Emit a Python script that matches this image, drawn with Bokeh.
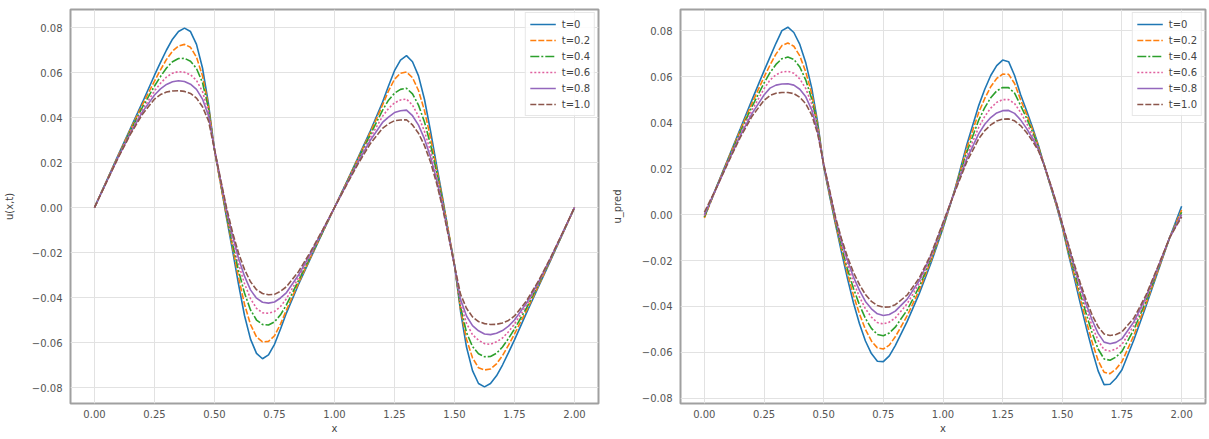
from bokeh.plotting import figure
from bokeh.layouts import row
from bokeh.models import FixedTicker, Range1d
from bokeh.embed import file_html
from bokeh.resources import INLINE

# ---------------- data ----------------
labels = ["t=0", "t=0.2", "t=0.4", "t=0.6", "t=0.8", "t=1.0"]

x_left = [0.00, 0.05, 0.10, 0.15, 0.20, 0.25,
          0.275, 0.30, 0.325, 0.35, 0.375, 0.40, 0.425, 0.45, 0.475, 0.50, 0.525,
          0.55, 0.575, 0.60, 0.625, 0.65, 0.675, 0.70, 0.725, 0.75, 0.775, 0.80,
          0.85, 0.90, 0.95, 1.00, 1.05, 1.10, 1.15, 1.20,
          1.225, 1.25, 1.275, 1.30, 1.325, 1.35, 1.375, 1.40, 1.425, 1.45, 1.475,
          1.50, 1.525, 1.55, 1.575, 1.60, 1.625, 1.65, 1.675, 1.70, 1.725, 1.75,
          1.80, 1.85, 1.90, 1.95, 2.00]

u_t00 = [0.0000, 0.0118, 0.0236, 0.0352, 0.0468, 0.0588,
         0.0645, 0.0700, 0.0748, 0.0782, 0.0797, 0.0782, 0.0725, 0.0620, 0.0460, 0.0255, 0.0112,
         -0.0045, -0.0190, -0.0340, -0.0480, -0.0585, -0.0648, -0.0672, -0.0655, -0.0608, -0.0540, -0.0468,
         -0.0342, -0.0226, -0.0112, 0.0000,
         0.0112, 0.0226, 0.0342, 0.0468,
         0.0540, 0.0608, 0.0655, 0.0675, 0.0648, 0.0585, 0.0480, 0.0340, 0.0190, 0.0045, -0.0112,
         -0.0255, -0.0460, -0.0620, -0.0725, -0.0782, -0.0797, -0.0782, -0.0748, -0.0700, -0.0645, -0.0588,
         -0.0468, -0.0352, -0.0236, -0.0118, 0.0000]
u_t02 = [0.0000, 0.0117, 0.0233, 0.0347, 0.0458, 0.0562,
         0.0612, 0.0658, 0.0695, 0.0718, 0.0725, 0.0712, 0.0668, 0.0585, 0.0450, 0.0255, 0.0105,
         -0.0038, -0.0175, -0.0310, -0.0430, -0.0520, -0.0575, -0.0597, -0.0595, -0.0570, -0.0518, -0.0455,
         -0.0335, -0.0222, -0.0111, 0.0000,
         0.0111, 0.0222, 0.0335, 0.0455,
         0.0518, 0.0570, 0.0597, 0.0602, 0.0577, 0.0520, 0.0430, 0.0310, 0.0175, 0.0038, -0.0105,
         -0.0255, -0.0450, -0.0585, -0.0668, -0.0712, -0.0722, -0.0718, -0.0695, -0.0658, -0.0612, -0.0562,
         -0.0458, -0.0347, -0.0233, -0.0117, 0.0000]
u_t04 = [0.0000, 0.0116, 0.0230, 0.0341, 0.0446, 0.0540,
         0.0582, 0.0620, 0.0648, 0.0662, 0.0663, 0.0650, 0.0618, 0.0555, 0.0440, 0.0256, 0.0112,
         -0.0030, -0.0160, -0.0280, -0.0380, -0.0455, -0.0500, -0.0520, -0.0522, -0.0508, -0.0477, -0.0432,
         -0.0325, -0.0217, -0.0109, 0.0000,
         0.0109, 0.0217, 0.0325, 0.0432,
         0.0477, 0.0508, 0.0525, 0.0530, 0.0505, 0.0455, 0.0380, 0.0280, 0.0160, 0.0030, -0.0112,
         -0.0256, -0.0440, -0.0555, -0.0618, -0.0650, -0.0663, -0.0662, -0.0648, -0.0620, -0.0582, -0.0540,
         -0.0446, -0.0341, -0.0230, -0.0116, 0.0000]
u_t06 = [0.0000, 0.0115, 0.0228, 0.0336, 0.0435, 0.0518,
         0.0552, 0.0580, 0.0597, 0.0604, 0.0601, 0.0590, 0.0565, 0.0515, 0.0425, 0.0257, 0.0118,
         -0.0020, -0.0142, -0.0250, -0.0338, -0.0405, -0.0448, -0.0468, -0.0470, -0.0462, -0.0440, -0.0405,
         -0.0312, -0.0212, -0.0106, 0.0000,
         0.0106, 0.0212, 0.0312, 0.0405,
         0.0440, 0.0465, 0.0478, 0.0482, 0.0455, 0.0405, 0.0338, 0.0250, 0.0142, 0.0020, -0.0118,
         -0.0257, -0.0425, -0.0515, -0.0565, -0.0590, -0.0605, -0.0608, -0.0597, -0.0580, -0.0552, -0.0518,
         -0.0435, -0.0336, -0.0228, -0.0115, 0.0000]
u_t08 = [0.0000, 0.0114, 0.0226, 0.0331, 0.0425, 0.0500,
         0.0527, 0.0547, 0.0559, 0.0563, 0.0560, 0.0548, 0.0525, 0.0482, 0.0408, 0.0258, 0.0122,
         -0.0010, -0.0125, -0.0225, -0.0305, -0.0366, -0.0403, -0.0421, -0.0425, -0.0420, -0.0402, -0.0378,
         -0.0300, -0.0205, -0.0103, 0.0000,
         0.0103, 0.0205, 0.0300, 0.0378,
         0.0402, 0.0422, 0.0430, 0.0433, 0.0408, 0.0366, 0.0305, 0.0225, 0.0125, 0.0010, -0.0122,
         -0.0258, -0.0408, -0.0482, -0.0525, -0.0548, -0.0562, -0.0565, -0.0559, -0.0547, -0.0527, -0.0500,
         -0.0425, -0.0331, -0.0226, -0.0114, 0.0000]
u_t10 = [0.0000, 0.0113, 0.0224, 0.0326, 0.0415, 0.0482,
         0.0502, 0.0513, 0.0518, 0.0519, 0.0516, 0.0507, 0.0486, 0.0448, 0.0385, 0.0258, 0.0128,
         0.0000, -0.0110, -0.0202, -0.0275, -0.0330, -0.0365, -0.0382, -0.0388, -0.0386, -0.0372, -0.0352,
         -0.0285, -0.0197, -0.0100, 0.0000,
         0.0100, 0.0197, 0.0285, 0.0352,
         0.0372, 0.0386, 0.0389, 0.0390, 0.0367, 0.0330, 0.0275, 0.0202, 0.0110, 0.0000, -0.0128,
         -0.0258, -0.0385, -0.0448, -0.0486, -0.0507, -0.0516, -0.0520, -0.0519, -0.0513, -0.0502, -0.0482,
         -0.0415, -0.0326, -0.0224, -0.0113, 0.0000]

x_right = [0.00, 0.05, 0.10, 0.15, 0.20, 0.25,
           0.275, 0.30, 0.325, 0.35, 0.375, 0.40, 0.425, 0.45, 0.475, 0.50, 0.525,
           0.55, 0.575, 0.60, 0.625, 0.65, 0.675, 0.70, 0.725, 0.75, 0.775, 0.80,
           0.85, 0.90, 0.95, 1.00, 1.05, 1.10, 1.15,
           1.175, 1.20, 1.225, 1.25, 1.275, 1.30, 1.325, 1.35, 1.375, 1.40, 1.425, 1.45,
           1.475, 1.50, 1.525, 1.55, 1.575, 1.60, 1.625, 1.65, 1.675, 1.70, 1.725, 1.75,
           1.80, 1.85, 1.90, 1.95, 2.00]

p_t00 = [-0.0010, 0.0118, 0.0245, 0.0372, 0.0500, 0.0625,
         0.0685, 0.0745, 0.0800, 0.0815, 0.0792, 0.0740, 0.0660, 0.0550, 0.0400, 0.0210, 0.0080,
         -0.0045, -0.0165, -0.0280, -0.0385, -0.0475, -0.0550, -0.0605, -0.0638, -0.0640, -0.0615, -0.0570,
         -0.0465, -0.0345, -0.0210, -0.0060, 0.0110, 0.0305, 0.0475,
         0.0545, 0.0605, 0.0648, 0.0672, 0.0665, 0.0605, 0.0522, 0.0453, 0.0380, 0.0300, 0.0210, 0.0125,
         0.0040, -0.0055, -0.0170, -0.0275, -0.0385, -0.0490, -0.0590, -0.0680, -0.0740, -0.0738, -0.0712, -0.0675,
         -0.0545, -0.0400, -0.0250, -0.0100, 0.0036]
p_t02 = [-0.0015, 0.0116, 0.0242, 0.0365, 0.0485, 0.0598,
         0.0650, 0.0698, 0.0735, 0.0746, 0.0732, 0.0690, 0.0620, 0.0525, 0.0390, 0.0212, 0.0085,
         -0.0040, -0.0152, -0.0258, -0.0352, -0.0432, -0.0500, -0.0550, -0.0580, -0.0585, -0.0568, -0.0532,
         -0.0440, -0.0330, -0.0200, -0.0055, 0.0108, 0.0290, 0.0445,
         0.0505, 0.0556, 0.0592, 0.0611, 0.0610, 0.0570, 0.0500, 0.0437, 0.0370, 0.0297, 0.0212, 0.0127,
         0.0042, -0.0052, -0.0162, -0.0262, -0.0365, -0.0462, -0.0555, -0.0635, -0.0686, -0.0692, -0.0672, -0.0640,
         -0.0525, -0.0390, -0.0245, -0.0100, 0.0020]
p_t04 = [-0.0010, 0.0116, 0.0238, 0.0358, 0.0470, 0.0572,
         0.0617, 0.0653, 0.0678, 0.0685, 0.0675, 0.0642, 0.0585, 0.0503, 0.0380, 0.0214, 0.0090,
         -0.0033, -0.0140, -0.0238, -0.0322, -0.0393, -0.0452, -0.0495, -0.0522, -0.0527, -0.0515, -0.0490,
         -0.0415, -0.0315, -0.0192, -0.0050, 0.0106, 0.0272, 0.0412,
         0.0465, 0.0508, 0.0538, 0.0553, 0.0552, 0.0528, 0.0475, 0.0420, 0.0360, 0.0292, 0.0212, 0.0128,
         0.0045, -0.0048, -0.0152, -0.0247, -0.0342, -0.0432, -0.0515, -0.0585, -0.0628, -0.0634, -0.0620, -0.0595,
         -0.0500, -0.0378, -0.0240, -0.0100, 0.0010]
p_t06 = [-0.0005, 0.0115, 0.0234, 0.0350, 0.0455, 0.0547,
         0.0585, 0.0608, 0.0620, 0.0623, 0.0615, 0.0590, 0.0548, 0.0480, 0.0370, 0.0216, 0.0095,
         -0.0027, -0.0128, -0.0218, -0.0295, -0.0358, -0.0410, -0.0446, -0.0470, -0.0476, -0.0468, -0.0450,
         -0.0388, -0.0300, -0.0185, -0.0045, 0.0104, 0.0257, 0.0380,
         0.0427, 0.0463, 0.0488, 0.0500, 0.0500, 0.0483, 0.0445, 0.0398, 0.0345, 0.0287, 0.0212, 0.0130,
         0.0048, -0.0045, -0.0143, -0.0235, -0.0325, -0.0410, -0.0485, -0.0548, -0.0588, -0.0594, -0.0585, -0.0565,
         -0.0482, -0.0368, -0.0236, -0.0100, 0.0005]
p_t08 = [0.0000, 0.0114, 0.0230, 0.0342, 0.0440, 0.0520,
         0.0550, 0.0563, 0.0568, 0.0569, 0.0563, 0.0545, 0.0512, 0.0455, 0.0360, 0.0218, 0.0100,
         -0.0020, -0.0117, -0.0200, -0.0272, -0.0330, -0.0378, -0.0410, -0.0432, -0.0439, -0.0435, -0.0420,
         -0.0368, -0.0288, -0.0178, -0.0040, 0.0102, 0.0243, 0.0352,
         0.0393, 0.0422, 0.0442, 0.0452, 0.0453, 0.0440, 0.0412, 0.0375, 0.0332, 0.0282, 0.0212, 0.0132,
         0.0050, -0.0042, -0.0135, -0.0225, -0.0310, -0.0390, -0.0460, -0.0517, -0.0555, -0.0562, -0.0556, -0.0540,
         -0.0466, -0.0360, -0.0232, -0.0100, 0.0000]
p_t10 = [0.0010, 0.0115, 0.0227, 0.0335, 0.0428, 0.0497,
         0.0518, 0.0528, 0.0531, 0.0531, 0.0526, 0.0510, 0.0482, 0.0433, 0.0350, 0.0220, 0.0105,
         -0.0014, -0.0106, -0.0185, -0.0252, -0.0305, -0.0348, -0.0378, -0.0396, -0.0403, -0.0402, -0.0392,
         -0.0350, -0.0277, -0.0172, -0.0035, 0.0100, 0.0230, 0.0330,
         0.0365, 0.0390, 0.0407, 0.0415, 0.0416, 0.0408, 0.0387, 0.0357, 0.0320, 0.0277, 0.0212, 0.0134,
         0.0052, -0.0040, -0.0128, -0.0215, -0.0297, -0.0372, -0.0437, -0.0488, -0.0520, -0.0526, -0.0522, -0.0510,
         -0.0450, -0.0352, -0.0228, -0.0100, -0.0010]

x_ticks = [0.0, 0.25, 0.5, 0.75, 1.0, 1.25, 1.5, 1.75, 2.0]
x_tick_labels = ["0.00", "0.25", "0.50", "0.75", "1.00", "1.25", "1.50", "1.75", "2.00"]
y_ticks = [-0.08, -0.06, -0.04, -0.02, 0.0, 0.02, 0.04, 0.06, 0.08]
y_tick_labels = ["\u22120.08", "\u22120.06", "\u22120.04", "\u22120.02", "0.00",
                 "0.02", "0.04", "0.06", "0.08"]

# ---------------- styles ----------------
colors = ["#1f77b4", "#ff7f0e", "#2ca02c", "#e0609f", "#9467bd", "#8c564b"]
dashes = ["solid", "6 2", "9 2 2 2", "2 2", "solid", "6 2"]
FONT = "DejaVu Sans"


def make_fig(width, border_left, border_right, ylabel, ylabel_standoff,
             y_start, y_end, xs, series):
    p = figure(width=width, height=436, output_backend="svg", toolbar_location=None,
               x_range=Range1d(-0.1, 2.1), y_range=Range1d(y_start, y_end),
               min_border_left=border_left, min_border_right=border_right,
               min_border_top=9, min_border_bottom=33)
    for ys, c, d, lab in zip(series, colors, dashes, labels):
        p.line(xs, ys, line_color=c, line_width=1.6, line_dash=d, legend_label=lab)

    p.outline_line_color = "#a0a0a0"
    p.outline_line_width = 2
    p.background_fill_color = "white"
    p.border_fill_color = "white"
    for g in (p.xgrid, p.ygrid):
        g.grid_line_color = "#e2e2e2"
        g.grid_line_width = 1
    p.xaxis.ticker = FixedTicker(ticks=x_ticks)
    p.yaxis.ticker = FixedTicker(ticks=y_ticks)
    p.xaxis.major_label_overrides = dict(zip(x_ticks, x_tick_labels))
    p.yaxis.major_label_overrides = dict(zip(y_ticks, y_tick_labels))
    for ax in (p.xaxis[0], p.yaxis[0]):
        ax.axis_line_color = None
        ax.major_tick_line_color = None
        ax.minor_tick_line_color = None
        ax.major_tick_in = 0
        ax.major_tick_out = 0
        ax.minor_tick_in = 0
        ax.minor_tick_out = 0
        ax.major_label_text_font = FONT
        ax.major_label_text_font_size = "10px"
        ax.major_label_text_color = "#555555"
        ax.axis_label_text_font = FONT
        ax.axis_label_text_font_size = "10px"
        ax.axis_label_text_font_style = "normal"
        ax.axis_label_text_color = "#444444"
    p.xaxis.major_label_standoff = 6
    p.yaxis.major_label_standoff = 8
    p.xaxis.axis_label = "x"
    p.xaxis.axis_label_standoff = 2
    p.yaxis.axis_label = ylabel
    p.yaxis.axis_label_standoff = ylabel_standoff

    lg = p.legend[0]
    lg.location = "top_right"
    lg.margin = 3
    lg.padding = 4
    lg.spacing = 2
    lg.glyph_width = 26
    lg.glyph_height = 14
    lg.label_height = 14
    lg.label_standoff = 6
    lg.label_text_font = FONT
    lg.label_text_font_size = "10px"
    lg.label_text_color = "#444444"
    lg.border_line_color = "#d0d0d0"
    lg.border_line_width = 1
    lg.background_fill_color = "white"
    lg.background_fill_alpha = 0.85
    return p


p1 = make_fig(608, 70, 10, "u(x,t)", 14, -0.0871, 0.0880, x_left,
              [u_t00, u_t02, u_t04, u_t06, u_t08, u_t10])
p2 = make_fig(601, 67, 4, "u_pred", 16, -0.0822, 0.0892, x_right,
              [p_t00, p_t02, p_t04, p_t06, p_t08, p_t10])

layout = row(p1, p2)
open("out.html", "w").write(file_html(layout, INLINE))
